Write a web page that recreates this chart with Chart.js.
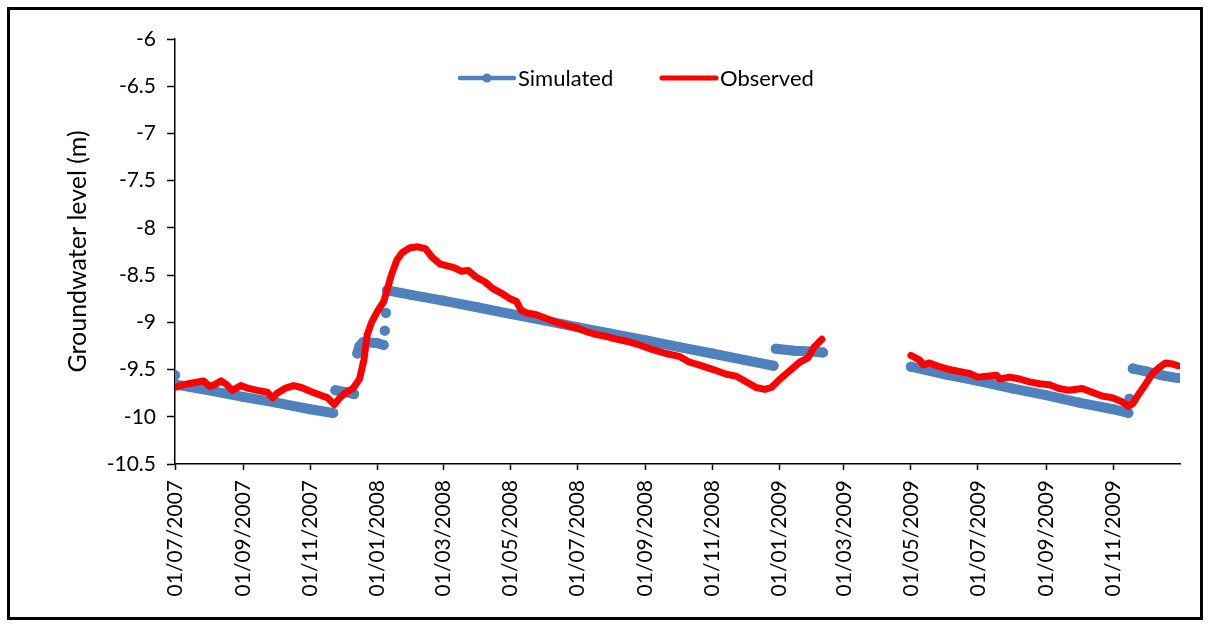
<!DOCTYPE html>
<html>
<head>
<meta charset="utf-8">
<title>Groundwater level: simulated vs observed</title>
<script src="https://cdn.jsdelivr.net/npm/chart.js@4.4.1/dist/chart.umd.min.js"></script>
<style>
  html, body { margin: 0; padding: 0; background: #fff; }
  #wrap { position: relative; width: 1210px; height: 626px; }
  #frame {
    position: absolute; left: 7px; top: 7px; width: 1196px; height: 613px;
    box-sizing: border-box; border: 3px solid #000; pointer-events: none;
  }
</style>
</head>
<body>
<div id="wrap">
  <canvas id="chart"></canvas>
  <div id="frame"></div>
</div>
<script>
// Axis tick labels (first day of every second month)
const tickLabels = [
  '01/07/2007', '01/09/2007', '01/11/2007', '01/01/2008', '01/03/2008',
  '01/05/2008', '01/07/2008', '01/09/2008', '01/11/2008', '01/01/2009',
  '01/03/2009', '01/05/2009', '01/07/2009', '01/09/2009', '01/11/2009'
];
const axisStart = '2007-07-01';
const axisEnd = '2010-01-01';
const levelTicks = { min: -10.5, max: -6, step: 0.5 };

// Simulated groundwater level (m); null marks a break in the record
const simDates = [
  '2007-07-01', '2007-07-02',
  '2007-07-02', '2007-08-01', '2007-09-01', '2007-10-01', '2007-11-01', '2007-11-22',
  '2007-11-24',
  '2007-11-24', '2007-12-04', '2007-12-11',
  '2007-12-13',
  '2007-12-14', '2007-12-16', '2007-12-19', '2008-01-01', '2008-01-07',
  '2008-01-08',
  '2008-01-08',
  '2008-01-09',
  '2008-01-09',
  '2008-01-10',
  '2008-01-10', '2008-02-01', '2008-03-01', '2008-04-01', '2008-05-01', '2008-06-01',
  '2008-07-01', '2008-08-01', '2008-09-01', '2008-10-01', '2008-11-01', '2008-12-01',
  '2008-12-27',
  '2008-12-28',
  '2008-12-29', '2009-01-15', '2009-02-01', '2009-02-10',
  '2009-03-01',
  '2009-05-01', '2009-06-01', '2009-07-01', '2009-08-01', '2009-09-01', '2009-10-01',
  '2009-11-01', '2009-11-15',
  '2009-11-16',
  '2009-11-16',
  '2009-11-18',
  '2009-11-19', '2009-12-01', '2009-12-15', '2009-12-30'
];
const simLevels = [
  -9.56, null,
  -9.66, -9.72, -9.79, -9.85, -9.92, -9.96,
  null,
  -9.72, -9.74, -9.76,
  null,
  -9.33, -9.25, -9.21, -9.22, -9.24,
  null,
  -9.09,
  null,
  -8.90,
  null,
  -8.66, -8.71, -8.77, -8.84, -8.91, -8.98,
  -9.05, -9.12, -9.19, -9.26, -9.33, -9.40,
  -9.46,
  null,
  -9.28, -9.30, -9.31, -9.32,
  null,
  -9.47, -9.55, -9.62, -9.70, -9.77, -9.85,
  -9.92, -9.96,
  null,
  -9.81,
  null,
  -9.49, -9.52, -9.56, -9.59
];

// Observed groundwater level (m)
const obsDates = [
  '2007-07-01', '2007-07-09', '2007-07-18', '2007-07-27', '2007-08-02', '2007-08-06',
  '2007-08-12', '2007-08-17', '2007-08-22', '2007-08-30', '2007-09-06', '2007-09-14',
  '2007-09-23', '2007-09-28', '2007-10-02', '2007-10-09', '2007-10-17', '2007-10-24',
  '2007-11-01', '2007-11-10', '2007-11-17', '2007-11-23', '2007-11-28', '2007-12-04',
  '2007-12-10', '2007-12-16', '2007-12-20', '2007-12-23', '2007-12-27', '2008-01-01',
  '2008-01-07', '2008-01-10', '2008-01-14', '2008-01-19', '2008-01-24', '2008-01-31',
  '2008-02-07', '2008-02-14', '2008-02-20', '2008-02-27', '2008-03-04', '2008-03-11',
  '2008-03-18', '2008-03-24', '2008-03-31', '2008-04-08', '2008-04-15', '2008-04-23',
  '2008-05-01', '2008-05-07', '2008-05-11', '2008-05-16', '2008-05-25', '2008-06-03',
  '2008-06-12', '2008-06-21', '2008-07-01', '2008-07-10', '2008-07-19', '2008-07-28',
  '2008-08-03', '2008-08-15', '2008-08-27', '2008-09-08', '2008-09-20', '2008-10-02',
  '2008-10-11', '2008-10-20', '2008-11-02', '2008-11-14', '2008-11-23', '2008-12-02',
  '2008-12-11', '2008-12-19', '2008-12-25', '2009-01-01', '2009-01-10', '2009-01-20',
  '2009-01-27', '2009-02-02', '2009-02-09',
  '2009-03-01',
  '2009-05-01', '2009-05-09', '2009-05-12', '2009-05-18', '2009-05-27', '2009-06-05',
  '2009-06-14', '2009-06-23', '2009-07-01', '2009-07-09', '2009-07-18', '2009-07-21',
  '2009-07-30', '2009-08-08', '2009-08-17', '2009-08-26', '2009-09-04', '2009-09-13',
  '2009-09-22', '2009-10-04', '2009-10-13', '2009-10-22', '2009-11-01', '2009-11-09',
  '2009-11-15', '2009-11-19', '2009-11-25', '2009-12-01', '2009-12-07', '2009-12-13',
  '2009-12-19', '2009-12-25', '2009-12-30'
];
const obsLevels = [
  -9.69, -9.66, -9.64, -9.62, -9.68, -9.66,
  -9.62, -9.66, -9.72, -9.67, -9.70, -9.72,
  -9.74, -9.80, -9.75, -9.70, -9.67, -9.69,
  -9.73, -9.77, -9.80, -9.87, -9.80, -9.74,
  -9.70, -9.60, -9.40, -9.13, -9.00, -8.89,
  -8.78, -8.66, -8.50, -8.34, -8.26, -8.21,
  -8.20, -8.22, -8.31, -8.38, -8.40, -8.42,
  -8.46, -8.45, -8.52, -8.57, -8.64, -8.69,
  -8.75, -8.78, -8.87, -8.90, -8.92, -8.96,
  -9.00, -9.03, -9.06, -9.10, -9.13, -9.15,
  -9.17, -9.20, -9.24, -9.29, -9.33, -9.36,
  -9.42, -9.45, -9.50, -9.55, -9.57, -9.63,
  -9.69, -9.71, -9.69, -9.61, -9.52, -9.42,
  -9.38, -9.26, -9.18,
  null,
  -9.35, -9.40, -9.45, -9.43, -9.47, -9.50,
  -9.52, -9.54, -9.58, -9.57, -9.56, -9.60,
  -9.58, -9.60, -9.63, -9.65, -9.66, -9.70,
  -9.72, -9.70, -9.74, -9.78, -9.80, -9.84,
  -9.89, -9.86, -9.75, -9.65, -9.54, -9.48,
  -9.43, -9.44, -9.46
];

const SIM_COLOR = '#4F81BD';
const OBS_COLOR = '#FF0000';
const FONT = 'Lato, "Open Sans", sans-serif';

function isoToTime(s) {
  const [y, m, d] = s.split('-').map(Number);
  return Date.UTC(y, m - 1, d);
}
function dmyToTime(s) {
  const [d, m, y] = s.split('/').map(Number);
  return Date.UTC(y, m - 1, d);
}
function toPoints(dates, levels) {
  return dates.map((d, i) => ({ x: isoToTime(d), y: levels[i] }));
}

const tickTimes = tickLabels.map(dmyToTime);

// Legend drawn inside the plot area, near its top
const insideLegend = {
  id: 'insideLegend',
  afterDraw(chart) {
    const { ctx, chartArea } = chart;
    const y = chartArea.top + 39;
    const items = [
      { ds: chart.data.datasets[0], x: chartArea.left + 285, marker: true },
      { ds: chart.data.datasets[1], x: chartArea.left + 487, marker: false }
    ];
    ctx.save();
    ctx.font = '22px ' + FONT;
    ctx.textBaseline = 'middle';
    ctx.textAlign = 'left';
    items.forEach(it => {
      ctx.strokeStyle = it.ds.borderColor;
      ctx.lineWidth = it.marker ? 4.5 : 5;
      ctx.lineCap = 'round';
      ctx.beginPath();
      ctx.moveTo(it.x, y);
      ctx.lineTo(it.x + 54, y);
      ctx.stroke();
      if (it.marker) {
        ctx.fillStyle = it.ds.borderColor;
        ctx.beginPath();
        ctx.arc(it.x + 27, y, 4.5, 0, Math.PI * 2);
        ctx.fill();
      }
      ctx.fillStyle = '#000';
      ctx.fillText(it.ds.label, it.x + 58, y + 1);
    });
    ctx.restore();
  }
};

new Chart(document.getElementById('chart'), {
  type: 'line',
  data: {
    datasets: [
      {
        label: 'Simulated',
        data: toPoints(simDates, simLevels),
        borderColor: SIM_COLOR,
        backgroundColor: SIM_COLOR,
        borderWidth: 10,
        borderCapStyle: 'round',
        borderJoinStyle: 'round',
        pointRadius: 5,
        pointBorderWidth: 0,
        pointBackgroundColor: SIM_COLOR,
        spanGaps: false,
        tension: 0,
        order: 2
      },
      {
        label: 'Observed',
        data: toPoints(obsDates, obsLevels),
        borderColor: OBS_COLOR,
        backgroundColor: OBS_COLOR,
        borderWidth: 7,
        borderCapStyle: 'round',
        borderJoinStyle: 'round',
        pointRadius: 0,
        spanGaps: false,
        tension: 0,
        order: 1
      }
    ]
  },
  options: {
    responsive: true,
    maintainAspectRatio: false,
    animation: false,
    layout: { padding: { left: 58, right: 30, top: 39, bottom: 0 } },
    plugins: {
      legend: { display: false },
      tooltip: { enabled: false }
    },
    scales: {
      x: {
        type: 'linear',
        min: isoToTime(axisStart),
        max: isoToTime(axisEnd),
        afterBuildTicks(scale) {
          scale.ticks = tickTimes.map(v => ({ value: v }));
        },
        afterFit(scale) { scale.height = 162; },
        border: { display: true, color: '#000', width: 1.5 },
        grid: {
          display: true, drawOnChartArea: false, drawTicks: true,
          tickLength: 6, tickWidth: 1.5, tickColor: '#000'
        },
        ticks: {
          autoSkip: false,
          minRotation: 90,
          maxRotation: 90,
          padding: 10,
          color: '#000',
          font: { family: FONT, size: 21 },
          callback(value) {
            const i = tickTimes.indexOf(value);
            return i >= 0 ? tickLabels[i] : '';
          }
        }
      },
      y: {
        type: 'linear',
        min: levelTicks.min,
        max: levelTicks.max,
        afterFit(scale) { scale.width = 117; },
        border: { display: true, color: '#000', width: 1.5 },
        grid: {
          display: true, drawOnChartArea: false, drawTicks: true,
          tickLength: 8, tickWidth: 1.5, tickColor: '#000'
        },
        ticks: {
          stepSize: levelTicks.step,
          padding: 11,
          color: '#000',
          font: { family: FONT, size: 21 },
          callback: v => String(v)
        },
        title: {
          display: true,
          text: 'Groundwater level (m)',
          color: '#000',
          font: { family: FONT, size: 25 },
          padding: { top: 5, bottom: 0 }
        }
      }
    }
  },
  plugins: [insideLegend]
});
</script>
</body>
</html>
